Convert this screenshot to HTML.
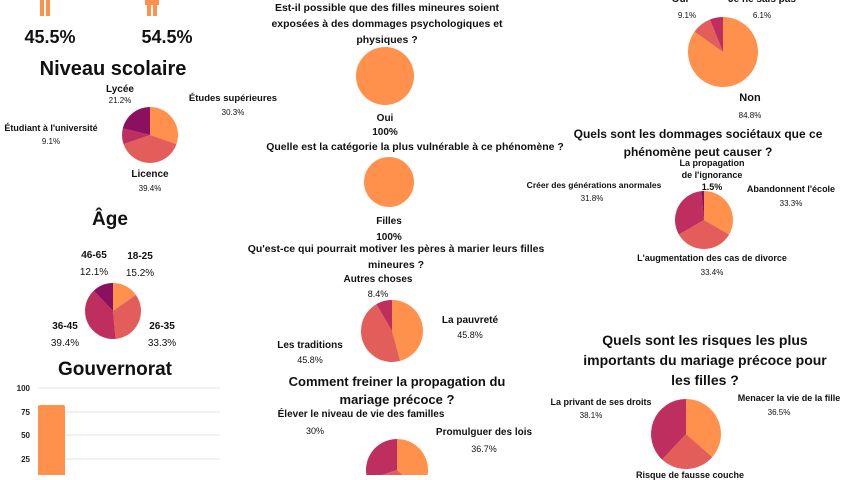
<!DOCTYPE html>
<html><head><meta charset="utf-8">
<style>
html,body{margin:0;padding:0;background:#fff;}
body{width:845px;height:475px;position:relative;overflow:hidden;font-family:"Liberation Sans","DejaVu Sans",sans-serif;color:#111;}
.t{position:absolute;white-space:nowrap;transform:translateX(-50%);text-align:center;font-weight:bold;}
.s{font-size:10px;}
.p{font-size:8px;font-weight:normal;}
.h{font-size:19px;}
.q{font-size:10.5px;line-height:16px;}
.q2{font-size:14px;line-height:20px;}
svg{position:absolute;left:0;top:0;}
</style></head><body>
<svg width="845" height="475" id="g">
 <rect x="40" y="0" width="4" height="16" fill="#FF914D"/><rect x="46" y="0" width="4" height="16" fill="#FF914D"/>
 <rect x="147" y="0" width="4" height="16" fill="#FF914D"/><rect x="153" y="0" width="4" height="16" fill="#FF914D"/>
 <rect x="145" y="0" width="14" height="5" fill="#FF914D"/>
 <g stroke="#e4e4e4" stroke-width="1">
  <line x1="38" y1="388" x2="220" y2="388"/><line x1="38" y1="412" x2="220" y2="412"/>
  <line x1="38" y1="435" x2="220" y2="435"/><line x1="38" y1="459" x2="220" y2="459"/>
 </g>
 <rect x="38" y="405" width="27" height="75" rx="2" fill="#FF914D"/>
 <g font-size="8" font-weight="bold" fill="#222" text-anchor="end" font-family="Liberation Sans,sans-serif">
  <text x="30" y="391">100</text><text x="30" y="415">75</text><text x="30" y="438">50</text><text x="30" y="462">25</text>
 </g>
</svg>
<script>
var C=["#FF914D","#E35D5B","#BE2F5F","#8B1060"];
function pie(cx,cy,r,v,cols){
 var g=document.getElementById('g'),a=-Math.PI/2,tot=v.reduce(function(x,y){return x+y},0);
 v.forEach(function(x,i){
  var f=x/tot,b=a+f*2*Math.PI,el;
  if(f>=0.9999){el=document.createElementNS("http://www.w3.org/2000/svg","circle");el.setAttribute("cx",cx);el.setAttribute("cy",cy);el.setAttribute("r",r);}
  else{el=document.createElementNS("http://www.w3.org/2000/svg","path");
   var x1=cx+r*Math.cos(a),y1=cy+r*Math.sin(a),x2=cx+r*Math.cos(b),y2=cy+r*Math.sin(b);
   el.setAttribute("d","M"+cx+","+cy+"L"+x1+","+y1+"A"+r+","+r+" 0 "+(f>0.5?1:0)+" 1 "+x2+","+y2+"Z");}
  el.setAttribute("fill",(cols||C)[i]);g.appendChild(el);a=b;});
}
pie(150,135,28,[30.3,39.4,9.1,21.2]);
pie(113,311,28,[15.2,33.3,39.4,12.1]);
pie(385,76,29,[100]);
pie(389,182,25,[100]);
pie(392,331,31,[45.8,45.8,8.4]);
pie(397,470,31,[36.7,33.3,30]);
pie(723,52,35,[84.8,9.1,6.1]);
pie(704,220,29,[33.3,33.4,31.8,1.5]);
pie(686,434,35,[36.5,25.4,38.1]);
</script>

<div class="t" style="left:50px;top:27px;font-size:18px;">45.5%</div>
<div class="t" style="left:167px;top:27px;font-size:18px;">54.5%</div>

<div class="t h" style="left:113px;top:58px;font-size:20px;">Niveau scolaire</div>
<div class="t s" style="left:120px;top:84px;">Lycée<br><span class="p">21.2%</span></div>
<div class="t s" style="left:233px;top:93px;font-size:9.5px;">Études supérieures<br><span class="p" style="line-height:17px">30.3%</span></div>
<div class="t s" style="left:51px;top:123px;font-size:9px;">Étudiant à l'université<br><span class="p" style="line-height:17px">9.1%</span></div>
<div class="t s" style="left:150px;top:169px;">Licence<br><span class="p" style="line-height:17px">39.4%</span></div>

<div class="t h" style="left:110px;top:209px;">Âge</div>
<div class="t s" style="left:94px;top:247px;line-height:17px;">46-65<br><span style="font-weight:normal">12.1%</span></div>
<div class="t s" style="left:140px;top:248px;line-height:17px;">18-25<br><span style="font-weight:normal">15.2%</span></div>
<div class="t s" style="left:65px;top:318px;line-height:17px;">36-45<br><span style="font-weight:normal">39.4%</span></div>
<div class="t s" style="left:162px;top:318px;line-height:17px;">26-35<br><span style="font-weight:normal">33.3%</span></div>

<div class="t h" style="left:115px;top:359px;">Gouvernorat</div>

<div class="t q" style="left:387px;top:0px;">Est-il possible que des filles mineures soient<br>exposées à des dommages psychologiques et<br>physiques ?</div>
<div class="t s" style="left:385px;top:112px;line-height:14px;">Oui<br>100%</div>
<div class="t q" style="left:415px;top:139px;">Quelle est la catégorie la plus vulnérable à ce phénomène ?</div>
<div class="t s" style="left:389px;top:214px;line-height:16px;">Filles<br>100%</div>

<div class="t q" style="left:396px;top:241px;">Qu'est-ce qui pourrait motiver les pères à marier leurs filles<br>mineures ?</div>
<div class="t s" style="left:378px;top:272px;line-height:15px;">Autres choses<br><span style="font-weight:normal;font-size:9px">8.4%</span></div>
<div class="t s" style="left:470px;top:313px;line-height:15px;">La pauvreté<br><span style="font-weight:normal;font-size:9px">45.8%</span></div>
<div class="t s" style="left:310px;top:338px;line-height:15px;">Les traditions<br><span style="font-weight:normal;font-size:9px">45.8%</span></div>

<div class="t q2" style="left:397px;top:373px;font-size:13px;line-height:18px;">Comment freiner la propagation du<br>mariage précoce ?</div>
<div class="t s" style="left:361px;top:409px;">Élever le niveau de vie des familles</div>
<div class="t p" style="left:315px;top:426px;font-size:9px;">30%</div>
<div class="t s" style="left:484px;top:425px;line-height:16px;">Promulguer des lois<br><span style="font-weight:normal;font-size:9px">36.7%</span></div>

<div class="t s" style="left:680px;top:-6px;">Oui</div>
<div class="t p" style="left:687px;top:11px;">9.1%</div>
<div class="t s" style="left:762px;top:-6px;">Je ne sais pas</div>
<div class="t p" style="left:762px;top:11px;">6.1%</div>
<div class="t s" style="left:750px;top:90px;font-size:11px;line-height:17px;">Non<br><span class="p">84.8%</span></div>

<div class="t q" style="left:698px;top:125px;font-size:12px;line-height:18px;">Quels sont les dommages sociétaux que ce<br>phénomène peut causer ?</div>
<div class="t" style="left:712px;top:157px;font-size:9px;line-height:12px;">La propagation<br>de l'ignorance<br>1.5%</div>
<div class="t" style="left:594px;top:180px;font-size:8.5px;">Créer des générations anormales</div>
<div class="t p" style="left:592px;top:194px;">31.8%</div>
<div class="t" style="left:791px;top:184px;font-size:9px;">Abandonnent l'école</div>
<div class="t p" style="left:791px;top:199px;">33.3%</div>
<div class="t" style="left:712px;top:251px;font-size:9px;line-height:14px;">L'augmentation des cas de divorce<br><span class="p">33.4%</span></div>

<div class="t q2" style="left:705px;top:330px;">Quels sont les risques les plus<br>importants du mariage précoce pour<br>les filles ?</div>
<div class="t" style="left:601px;top:397px;font-size:9px;">La privant de ses droits</div>
<div class="t p" style="left:591px;top:411px;">38.1%</div>
<div class="t" style="left:789px;top:393px;font-size:9px;">Menacer la vie de la fille</div>
<div class="t p" style="left:779px;top:408px;">36.5%</div>
<div class="t" style="left:690px;top:470px;font-size:9px;">Risque de fausse couche</div>
</body></html>
